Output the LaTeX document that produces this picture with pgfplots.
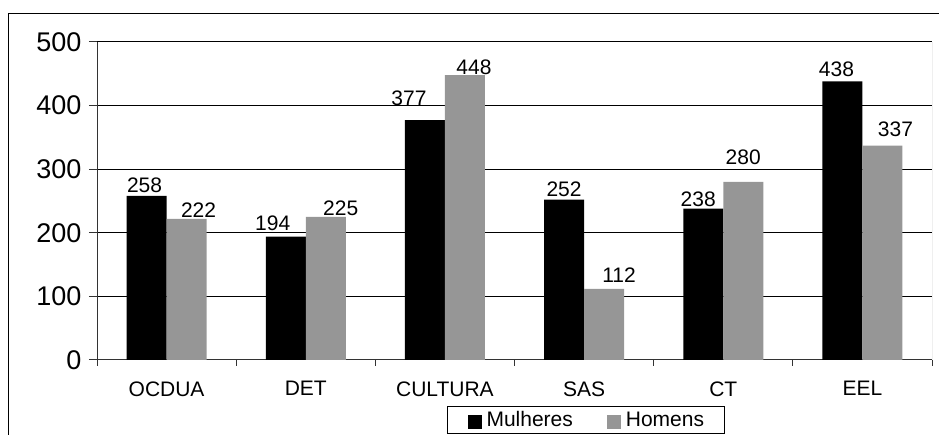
\documentclass[border=0pt]{standalone}
\usepackage{fontspec}
\setmainfont{Liberation Sans}
\usepackage{pgfplots}
\usepackage{pgfplotstable}
\pgfplotsset{compat=1.18}
\definecolor{bargray}{RGB}{150,150,150}
\definecolor{axisgray}{RGB}{51,51,51}
\pgfplotstableread{
x y dx dy
0 258 -2 3
1 194 -13 6
2 377 -16 14
3 252 0 3
4 238 -5 2
5 438 -6 5
}\mulheres
\pgfplotstableread{
x y dx dy
0 222 12 1
1 225 15 1
2 448 9 0
3 112 15 6
4 280 0 17
5 337 13 9
}\homens
\begin{document}
\begin{tikzpicture}
\useasboundingbox (0,0) rectangle (939pt,435pt);
\clip (0,0) rectangle (939pt,435pt);
\draw[line width=1pt] (8pt,-10pt) rectangle (960pt,421pt);
\begin{axis}[
  at={(97pt,75pt)}, anchor=south west,
  scale only axis, width=835pt, height=318pt,
  xmin=-0.5, xmax=5.5, ymin=0, ymax=500,
  ybar=0pt, bar width=40pt,
  axis lines*=left,
  axis line style={axisgray, line width=1pt},
  tick align=outside,
  xtick={0,...,5},
  xticklabels={OCDUA,DET,CULTURA,SAS,CT,EEL},
  major x tick style={draw=none},
  minor xtick={-0.5,0.5,...,5.5},
  minor x tick style={axisgray, line width=1pt},
  minor tick length=6pt,
  ytick={0,100,...,500},
  major y tick style={axisgray, line width=1pt},
  major tick length=8pt,
  ymajorgrids,
  grid style={black, line width=1pt},
  /pgf/number format/assume math mode=true,
  yticklabel style={font=\fontsize{27pt}{31pt}\selectfont, anchor=east, xshift=-4pt},
  xticklabel style={font=\fontsize{21pt}{25pt}\selectfont, yshift=-10pt},
  legend style={at={(0.4192,-0.1447)}, anchor=north west, draw=black, line width=1pt,
    legend columns=2, font=\fontsize{21pt}{25pt}\selectfont,
    inner xsep=20pt, inner ysep=5pt,
    nodes={inner sep=0pt},
    /tikz/every even column/.append style={column sep=34pt}},
  legend image code/.code={\fill[#1] (0pt,-9pt) rectangle (14pt,5pt); \path (19pt,0pt);},
  point meta=explicit symbolic,
  nodes near coords={\pgfplotspointmeta},
  nodes near coords style={anchor=south, inner sep=0pt, text=black,
    font=\fontsize{21pt}{25pt}\selectfont, xshift=\dx pt, yshift=\dy pt},
]
\addplot[fill=black, draw=none,
  visualization depends on={\thisrow{dx}\as\dx},
  visualization depends on={\thisrow{dy}\as\dy},
  nodes near coords] table[x=x,y=y,meta=y]{\mulheres};
\addlegendentry{Mulheres}
\addplot[fill=bargray, draw=none,
  visualization depends on={\thisrow{dx}\as\dx},
  visualization depends on={\thisrow{dy}\as\dy},
  nodes near coords] table[x=x,y=y,meta=y]{\homens};
\addlegendentry{Homens}
\draw[gray, line width=1pt] (rel axis cs:1,0) -- (rel axis cs:1,1);
\end{axis}
\end{tikzpicture}
\end{document}
